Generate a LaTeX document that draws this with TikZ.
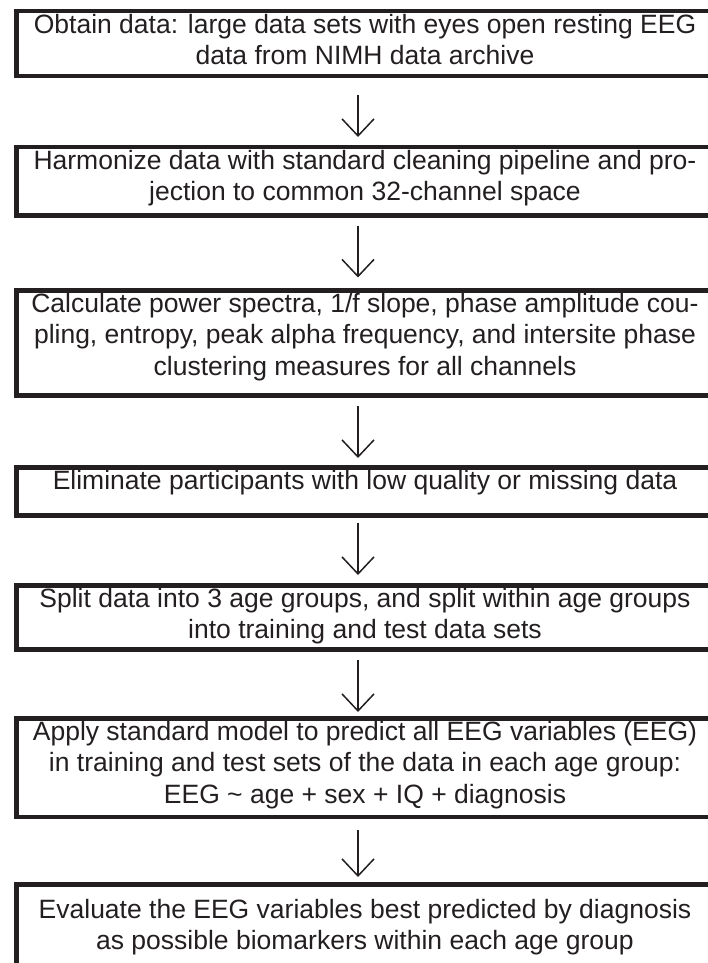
\documentclass[tikz,border=0pt]{standalone}
\usepackage{fontspec}
\setmainfont{Liberation Sans}
\usepackage{tikz}
\usetikzlibrary{arrows.meta}
\usetikzlibrary{positioning}

\definecolor{ink}{HTML}{231F20}

\tikzset{
  stepbox/.style={draw=ink,line width=4.5pt,rectangle,outer sep=0pt,minimum width=700pt},
  steptext/.style={text=ink,align=center,inner sep=0pt,xshift=-1.5pt,font=\fontsize{26.5}{31.3}\selectfont},
  flow/.style={draw=ink,line width=1.5pt,-{Straight Barb[length=17pt,width=32pt,line width=1.5pt]}}
}

\begin{document}
\begin{tikzpicture}[x=1pt,y=-1pt,line cap=butt]
\useasboundingbox (0,0) rectangle (708,963);
\clip (0,0) rectangle (708,963);
% boxes, right side runs off the page
\node[stepbox,minimum height=65pt]  (obtain)    at (366.5,43.5)  {};
\node[stepbox,minimum height=68.5pt](harmonize) at (366.5,181.25){};
\node[stepbox,minimum height=105pt] (calculate) at (366.5,343)   {};
\node[stepbox,minimum height=48pt]  (eliminate) at (366.5,491.5) {};
\node[stepbox,minimum height=64pt]  (split)     at (366.5,617.5) {};
\node[stepbox,minimum height=98.5pt](apply)     at (366.5,767.75){};
\node[stepbox,minimum height=105pt] (evaluate)  at (366.5,937)   {};
% texts
\node[steptext,below=0pt of obtain.north] (obtaintxt)
  {\strut Obtain data: large data sets with eyes open resting EEG\\
   \strut data from NIMH data archive};
\node[steptext,below=0pt of harmonize.north] (harmonizetxt)
  {\strut Harmonize data with standard cleaning pipeline and pro-\\
   \strut jection to common 32-channel space};
\node[steptext,below=0pt of calculate.north] (calculatetxt)
  {\strut Calculate power spectra, 1/f slope, phase amplitude cou-\\
   \strut pling, entropy, peak alpha frequency, and intersite phase\\
   \strut clustering measures for all channels};
\node[steptext,below=0pt of eliminate.north] (eliminatetxt)
  {\strut Eliminate participants with low quality or missing data};
\node[steptext,below=0pt of split.north] (splittxt)
  {\strut Split data into 3 age groups, and split within age groups\\
   \strut into training and test data sets};
\node[steptext,below=0pt of apply.north] (applytxt)
  {\strut Apply standard model to predict all EEG variables (EEG)\\
   \strut in training and test sets of the data in each age group:\\
   \strut EEG \textasciitilde{} age + sex + IQ + diagnosis};
\node[steptext,below=11.5pt of evaluate.north] (evaluatetxt)
  {\strut Evaluate the EEG variables best predicted by diagnosis\\
   \strut as possible biomarkers within each age group};
% arrows between the steps, a little left of the box centres
\draw[flow,shorten <=19pt,shorten >=10pt]  ([xshift=-8.5pt]obtain.south)    -- ([xshift=-8.5pt]harmonize.north);
\draw[flow,shorten <=10pt,shorten >=13pt]  ([xshift=-8.5pt]harmonize.south) -- ([xshift=-8.5pt]calculate.north);
\draw[flow,shorten <=10.5pt,shorten >=9.5pt]([xshift=-8.5pt]calculate.south) -- ([xshift=-8.5pt]eliminate.north);
\draw[flow,shorten <=7pt,shorten >=10.5pt] ([xshift=-8.5pt]eliminate.south) -- ([xshift=-8.5pt]split.north);
\draw[flow,shorten <=10.5pt,shorten >=6.5pt]([xshift=-8.5pt]split.south)     -- ([xshift=-8.5pt]apply.north);
\draw[flow,shorten <=13pt,shorten >=7.5pt] ([xshift=-8.5pt]apply.south)     -- ([xshift=-8.5pt]evaluate.north);
\end{tikzpicture}
\end{document}
